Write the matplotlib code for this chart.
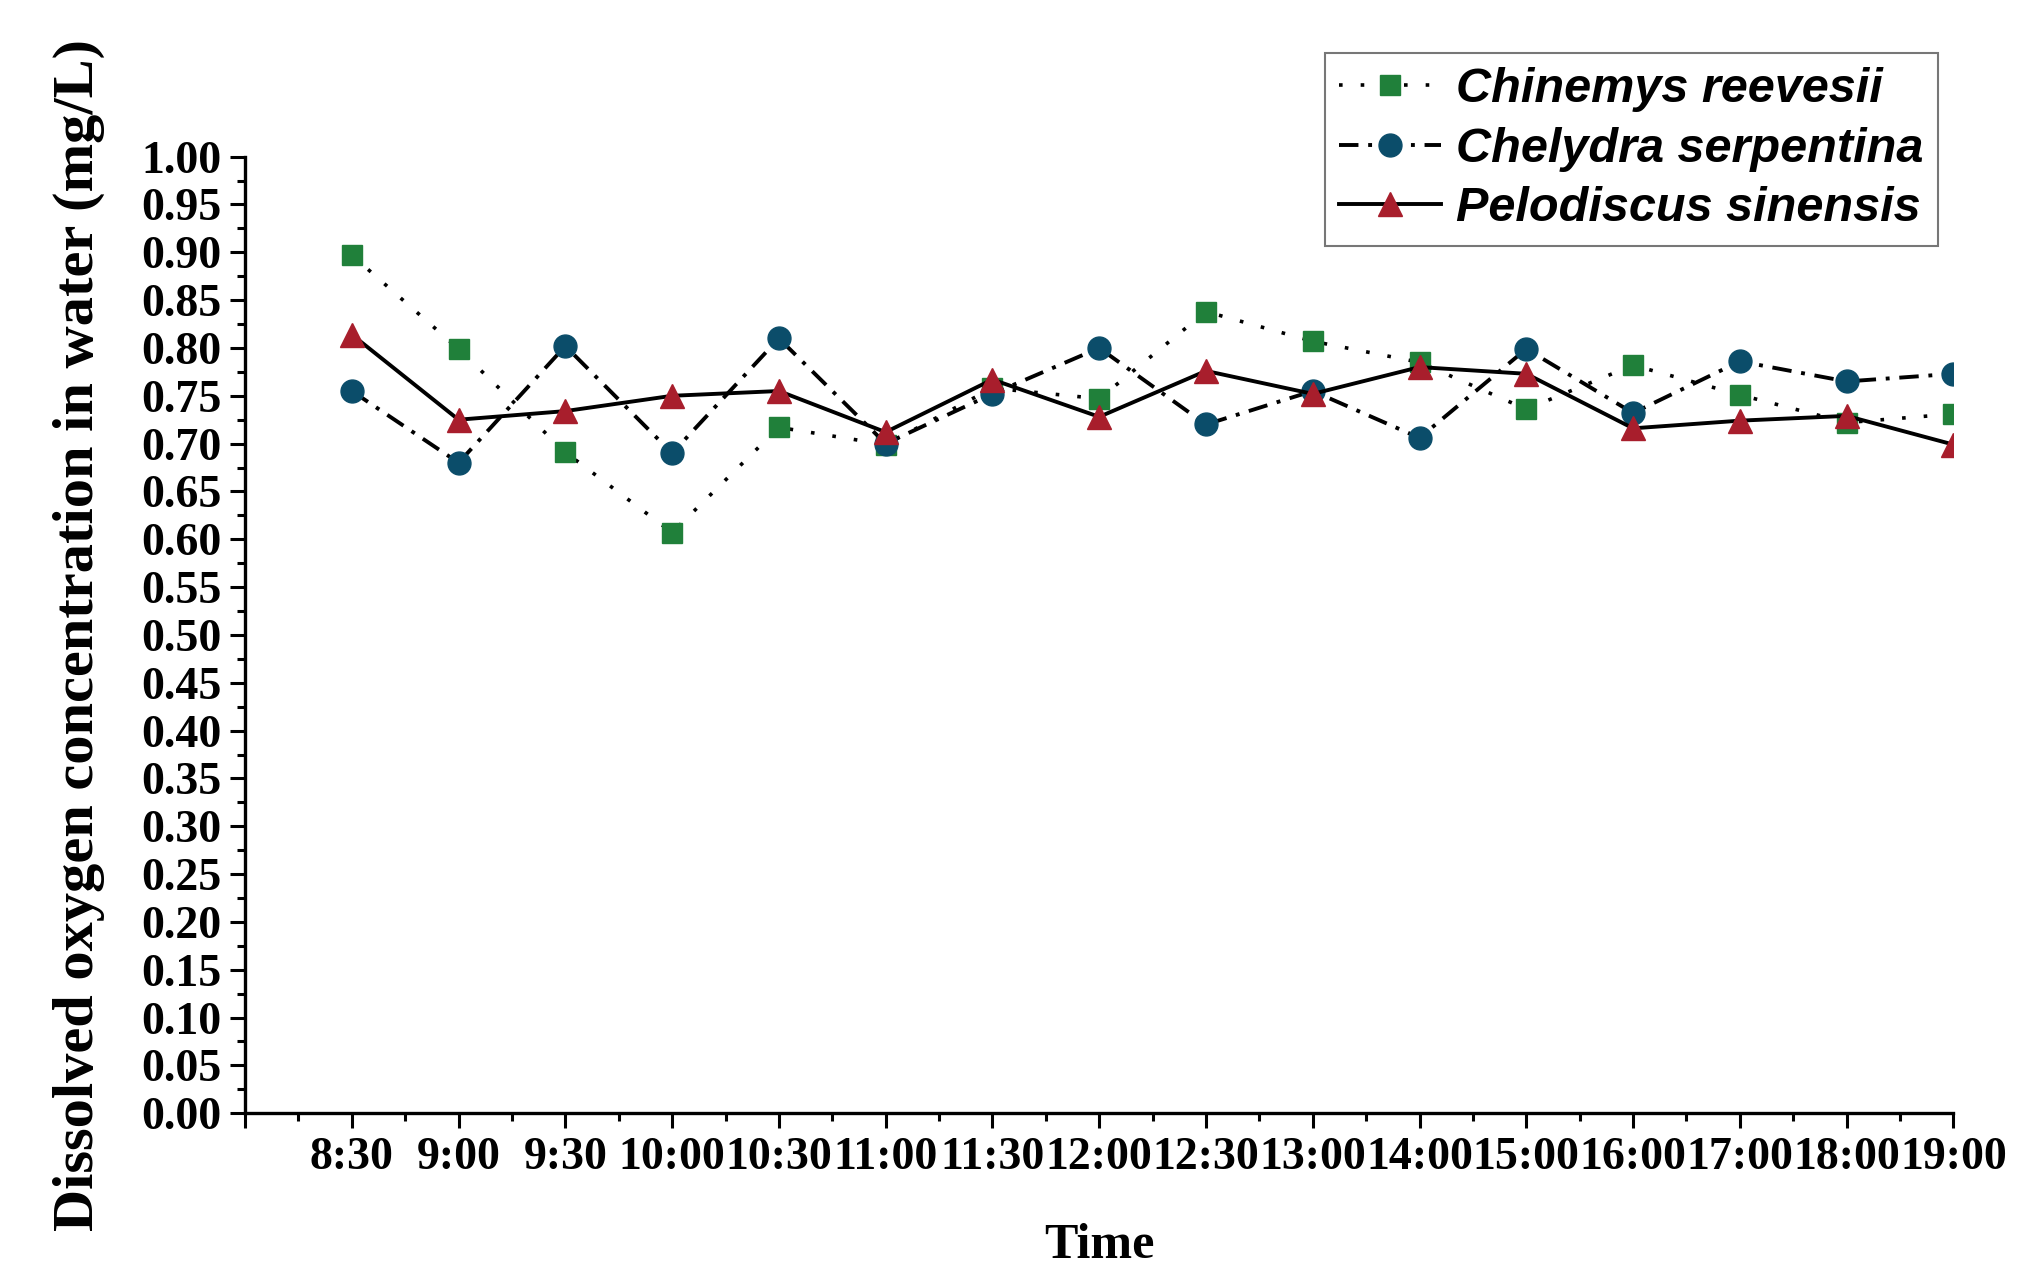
import numpy as np
import matplotlib
matplotlib.use('Agg')
import matplotlib.pyplot as plt
from matplotlib.ticker import MultipleLocator, FixedLocator, FormatStrFormatter

# Sampling times and dissolved oxygen readings (mg/L) for each species.
times = ['8:30', '9:00', '9:30', '10:00', '10:30', '11:00', '11:30', '12:00',
         '12:30', '13:00', '14:00', '15:00', '16:00', '17:00', '18:00', '19:00']
chinemys = [0.897, 0.799, 0.691, 0.607, 0.717, 0.699, 0.758, 0.747,
            0.838, 0.807, 0.785, 0.736, 0.782, 0.751, 0.722, 0.731]
chelydra = [0.755, 0.680, 0.802, 0.690, 0.810, 0.700, 0.752, 0.800,
            0.720, 0.755, 0.706, 0.799, 0.732, 0.786, 0.765, 0.773]
pelodiscus = [0.814, 0.725, 0.734, 0.750, 0.755, 0.712, 0.767, 0.728,
              0.776, 0.752, 0.780, 0.773, 0.716, 0.724, 0.729, 0.699]
labels = ['Chinemys reevesii', 'Chelydra serpentina', 'Pelodiscus sinensis']

x = np.arange(1, len(times) + 1)

fig = plt.figure(figsize=(20.42, 12.84), dpi=100)
ax = fig.add_axes([0.12, 0.133, 0.8366, 0.745])

ax.plot(x, chinemys, color='black', linewidth=2.6, linestyle=(0, (1, 5)),
        marker='s', markersize=15, markerfacecolor='#20803a', markeredgecolor='#20803a',
        label=labels[0])
ax.plot(x, chelydra, color='black', linewidth=2.8, linestyle=(0, (5, 2.5, 1, 2.5)),
        marker='o', markersize=16.5, markerfacecolor='#0b4d6a', markeredgecolor='#0b4d6a',
        label=labels[1])
ax.plot(x, pelodiscus, color='black', linewidth=2.8, linestyle='-',
        marker='^', markersize=17.5, markerfacecolor='#a81e2c', markeredgecolor='#a81e2c',
        label=labels[2])

# Axis limits and ticks
ax.set_xlim(0, len(times))
ax.set_ylim(0, 1.0)
ax.xaxis.set_major_locator(FixedLocator(np.arange(0, len(times) + 1)))
ax.xaxis.set_minor_locator(MultipleLocator(0.5))
ax.set_xticklabels([''] + times)
ax.yaxis.set_major_locator(MultipleLocator(0.05))
ax.yaxis.set_minor_locator(MultipleLocator(0.025))
ax.yaxis.set_major_formatter(FormatStrFormatter('%.2f'))

for side in ['top', 'right']:
    ax.spines[side].set_visible(False)
for side in ['left', 'bottom']:
    ax.spines[side].set_linewidth(2.4)

ax.tick_params(which='major', direction='out', length=11, width=2.2, pad=6)
ax.tick_params(which='minor', direction='out', length=6, width=2.2)

for lab in ax.get_xticklabels() + ax.get_yticklabels():
    lab.set_fontfamily('Liberation Serif')
    lab.set_fontweight('bold')
    lab.set_fontsize(33)

ax.set_xlabel('Time', fontfamily='Liberation Serif', fontweight='bold', fontsize=36, labelpad=32)
ax.set_ylabel('Dissolved oxygen concentration in water (mg/L)', fontfamily='Liberation Serif',
              fontweight='bold', fontsize=42, labelpad=26)

leg = fig.legend(loc='upper right', bbox_to_anchor=(0.949, 0.959), bbox_transform=fig.transFigure,
                 prop={'family': 'Liberation Sans', 'weight': 'bold', 'style': 'italic', 'size': 35},
                 frameon=True, fancybox=False, handlelength=2.1, handletextpad=0.3,
                 borderpad=0.3, labelspacing=0.3, borderaxespad=0.0)
leg.get_frame().set_edgecolor('#555555')
leg.get_frame().set_linewidth(1.5)

plt.savefig('out.png')
plt.close()
